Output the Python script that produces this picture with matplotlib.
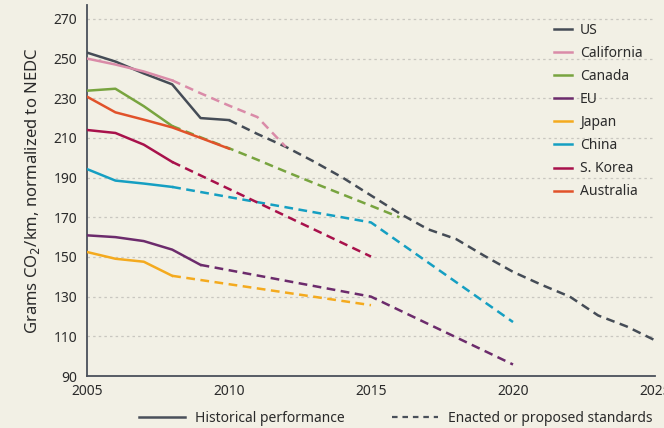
# Fleet CO2 standards by region: historical vs enacted/proposed.

import matplotlib
matplotlib.use("Agg")

import matplotlib.pyplot as plt
from matplotlib.lines import Line2D

plt.rcParams["font.family"] = ["Noto Sans", "DejaVu Sans"]

# historical values (solid)
usHistYears = [2005, 2006, 2007, 2008, 2009, 2010]
usHist = [253, 248.5, 242.5, 237, 220, 219]
usStdYears = [2010, 2011, 2012, 2013, 2014, 2015, 2016, 2017, 2018, 2019,
              2020, 2021, 2022, 2023, 2024, 2025]
usStd = [219, 212, 205.5, 198, 190, 181, 172, 164, 159, 150.5,
         142.5, 136, 130, 120.5, 115, 108]

caHistYears = [2005, 2006, 2007, 2008]
caHist = [250, 247, 243.5, 239]
caStdYears = [2008, 2009, 2010, 2011, 2012]
caStd = [239, 232.5, 226.3, 220.5, 205.5]

cnHistYears = [2005, 2006, 2007, 2008]
cnHist = [233.8, 234.8, 226, 216]
cnStdYears = [2008, 2009, 2010, 2011, 2012, 2013, 2014, 2015, 2016]
cnStd = [216, 210.3, 204.8, 199, 193, 187.2, 181.5, 175.8, 170]

euHistYears = [2005, 2006, 2007, 2008, 2009]
euHist = [160.9, 160, 158, 153.7, 146]
euStdYears = [2009, 2015, 2020]
euStd = [146, 130, 95.8]

jpHistYears = [2005, 2006, 2007, 2008]
jpHist = [152.5, 149.1, 147.6, 140.5]
jpStdYears = [2008, 2015]
jpStd = [140.5, 125.7]

chHistYears = [2005, 2006, 2007, 2008]
chHist = [194.3, 188.5, 187, 185.3]
chStdYears = [2008, 2015, 2020]
chStd = [185.3, 167.4, 117.2]

krHistYears = [2005, 2006, 2007, 2008]
krHist = [214, 212.5, 206.6, 197.9]
krStdYears = [2008, 2015]
krStd = [197.9, 150.2]

auHistYears = [2005, 2006, 2007, 2008, 2009, 2010]
auHist = [230.8, 222.9, 219.2, 215.3, 210, 204.6]

series = [
    ("US", "#454c56", usHistYears, usHist, usStdYears, usStd),
    ("California", "#da8ba8", caHistYears, caHist, caStdYears, caStd),
    ("Canada", "#78a43f", cnHistYears, cnHist, cnStdYears, cnStd),
    ("EU", "#6c2b6c", euHistYears, euHist, euStdYears, euStd),
    ("Japan", "#f4aa1e", jpHistYears, jpHist, jpStdYears, jpStd),
    ("China", "#159fc2", chHistYears, chHist, chStdYears, chStd),
    ("S. Korea", "#a8114b", krHistYears, krHist, krStdYears, krStd),
    ("Australia", "#e1522a", auHistYears, auHist, None, None),
]

yTicks = [90, 110, 130, 150, 170, 190, 210, 230, 250, 270]
xTicks = [2005, 2010, 2015, 2020, 2025]

bg = "#f2f0e5"
axisColor = "#4a505a"
textColor = "#2b2b2b"

fig = plt.figure(figsize=(6.64, 4.28), dpi=100, facecolor=bg)
ax = fig.add_axes([87 / 664, 1 - 376 / 428, (655 - 87) / 664, 371 / 428])
ax.set_facecolor(bg)

for y in yTicks[1:]:
    ax.axhline(y, color="#c9c7c0", linewidth=0.9, linestyle=(0, (2, 2.5)), zorder=1)

# dashed first so the solid history sits on top
for name, color, hx, hy, sx, sy in series:
    if sx is not None:
        ax.plot(sx, sy, color=color, linewidth=1.8, linestyle=(0, (3.5, 2.2)), zorder=2)
for name, color, hx, hy, sx, sy in series:
    ax.plot(hx, hy, color=color, linewidth=1.8, label=name, zorder=3)

ax.set_xlim(2005, 2025)
ax.set_ylim(90, 277)
ax.set_xticks(xTicks)
ax.set_yticks(yTicks)
ax.tick_params(length=0, labelsize=10, colors=textColor, pad=7)
ax.tick_params(axis="x", pad=6)
for side in ["top", "right"]:
    ax.spines[side].set_visible(False)
for side in ["left", "bottom"]:
    ax.spines[side].set_color(axisColor)
    ax.spines[side].set_linewidth(1.3)

ax.set_ylabel("Grams CO$_2$/km, normalized to NEDC", fontsize=12, color=textColor, labelpad=8)

ax.legend(loc="upper right", bbox_to_anchor=(1.0, 0.985), frameon=False, fontsize=10,
          handlelength=1.3, handletextpad=0.55, labelspacing=0.58, labelcolor=textColor)

styleHandles = [
    Line2D([], [], color=axisColor, linewidth=1.8),
    Line2D([], [], color=axisColor, linewidth=1.6, linestyle=(0, (2.5, 2.2))),
]
fig.legend(styleHandles, ["Historical performance", "Enacted or proposed standards"],
           loc="center", bbox_to_anchor=(396 / 664, 1 - 418 / 428), ncol=2, frameon=False,
           fontsize=10, handlelength=3.3, handletextpad=0.75, columnspacing=3.4,
           labelcolor=textColor)

fig.savefig("out.png", dpi=100, facecolor=bg)
